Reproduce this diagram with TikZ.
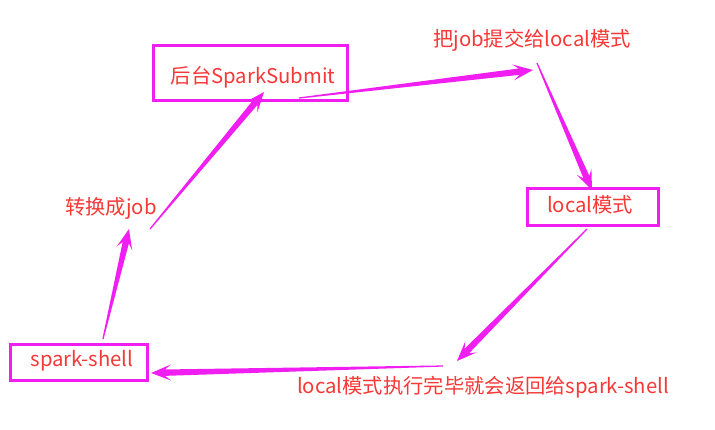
\documentclass[tikz,border=0pt]{standalone}
\usepackage{fontspec}
\setmainfont{Noto Sans CJK SC}
\usetikzlibrary{calc}
\definecolor{mag}{RGB}{240,30,240}
\definecolor{txt}{RGB}{248,55,55}
\newcommand{\taperarrow}[2]{%
  \coordinate (h1) at ($(#2)!14pt!(#1)$);
  \coordinate (h2) at ($(#2)!20pt!(#1)$);
  \fill[mag] ($(#1)!0.6pt!90:(#2)$) -- ($(h1)!3.2pt!90:(#2)$) -- ($(h2)!8pt!90:(#2)$) -- (#2)
    -- ($(h2)!8pt!-90:(#2)$) -- ($(h1)!3.2pt!-90:(#2)$) -- ($(#1)!0.6pt!-90:(#2)$) -- cycle;}
\begin{document}
\begin{tikzpicture}[x=1pt,y=-1pt,
  box/.style={draw=mag,line width=3pt,inner sep=0pt},
  lbl/.style={text=txt,font=\fontsize{20.3}{23}\selectfont,inner sep=0pt}]
\useasboundingbox[fill=white] (0,0) rectangle (715,429);
% boxes
\node[box,minimum width=194pt,minimum height=55pt] (sub) at (250,72.5) {};
\node[box,minimum width=131pt,minimum height=37pt] (loc) at (592.5,206.5) {};
\node[box,minimum width=137pt,minimum height=36pt] (sh) at (78.5,362) {};
% texts
\node[lbl] (tsub) at (253,77) {后台SparkSubmit};
\node[lbl] (tloc) at (590,205) {local模式};
\node[lbl] (tsh) at (82,361) {spark-shell};
\node[lbl] (l1) at (532,40) {把job提交给local模式};
\node[lbl] (l2) at (111,208) {转换成job};
\node[lbl] (l3) at (483,387) {local模式执行完毕就会返回给spark-shell};
% arrow ends
\coordinate (a1s) at (103,339);
\coordinate (a1e) at (129,229);
\coordinate (a2s) at (150,229);
\coordinate (a2e) at (264,92);
\coordinate (a3s) at (299,98);
\coordinate (a3e) at (533,70);
\coordinate (a4s) at (537,63);
\coordinate (a4e) at (592,190);
\coordinate (a5s) at (587,229);
\coordinate (a5e) at (457,361);
\coordinate (a6s) at (443,366);
\coordinate (a6e) at (151,373);
\taperarrow{a1s}{a1e}
\taperarrow{a2s}{a2e}
\taperarrow{a3s}{a3e}
\taperarrow{a4s}{a4e}
\taperarrow{a5s}{a5e}
\taperarrow{a6s}{a6e}
\end{tikzpicture}
\end{document}
